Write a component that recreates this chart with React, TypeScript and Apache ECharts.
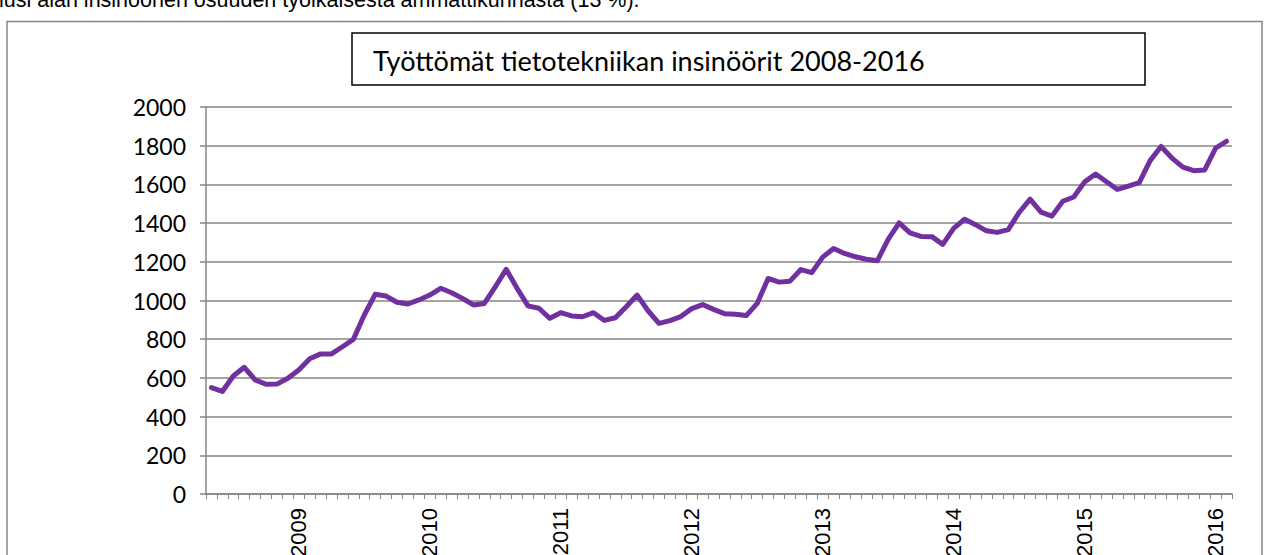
import React, { useEffect, useRef } from "react";
import * as echarts from "echarts";

const introText = "lusi alan insinöörien osuuden työikäisestä ammattikunnasta (13 %).";
const chartTitle = "Työttömät tietotekniikan insinöörit 2008-2016";

const months = [
  "2008-05", "2008-06", "2008-07", "2008-08", "2008-09", "2008-10", "2008-11", "2008-12",
  "2009-01", "2009-02", "2009-03", "2009-04", "2009-05", "2009-06", "2009-07", "2009-08", "2009-09", "2009-10", "2009-11", "2009-12",
  "2010-01", "2010-02", "2010-03", "2010-04", "2010-05", "2010-06", "2010-07", "2010-08", "2010-09", "2010-10", "2010-11", "2010-12",
  "2011-01", "2011-02", "2011-03", "2011-04", "2011-05", "2011-06", "2011-07", "2011-08", "2011-09", "2011-10", "2011-11", "2011-12",
  "2012-01", "2012-02", "2012-03", "2012-04", "2012-05", "2012-06", "2012-07", "2012-08", "2012-09", "2012-10", "2012-11", "2012-12",
  "2013-01", "2013-02", "2013-03", "2013-04", "2013-05", "2013-06", "2013-07", "2013-08", "2013-09", "2013-10", "2013-11", "2013-12",
  "2014-01", "2014-02", "2014-03", "2014-04", "2014-05", "2014-06", "2014-07", "2014-08", "2014-09", "2014-10", "2014-11", "2014-12",
  "2015-01", "2015-02", "2015-03", "2015-04", "2015-05", "2015-06", "2015-07", "2015-08", "2015-09", "2015-10", "2015-11", "2015-12",
  "2016-01", "2016-02",
];

const unemployed = [
  550, 530, 610, 655, 590, 567, 568, 598,
  641, 699, 724, 724, 761, 799, 925, 1032, 1023, 991, 982, 1003,
  1028, 1063, 1040, 1011, 977, 985, 1071, 1161, 1063, 972, 960, 908,
  937, 920, 916, 937, 897, 911, 968, 1028, 947, 882, 896, 917,
  958, 979, 954, 932, 929, 922, 985, 1114, 1095, 1100, 1160, 1144,
  1224, 1269, 1243, 1226, 1213, 1205, 1316, 1401, 1350, 1331, 1330, 1290,
  1373, 1420, 1392, 1360, 1352, 1366, 1455, 1524, 1457, 1436, 1513, 1535,
  1613, 1654, 1614, 1574, 1591, 1609, 1723, 1796, 1736, 1689, 1671, 1675,
  1788, 1823,
];

const yTicks = { min: 0, max: 2000, interval: 200 };

export default function App() {
  const ref = useRef<HTMLDivElement>(null);
  useEffect(() => {
    if (!ref.current) return;
    const chart = echarts.init(ref.current, null, { renderer: "svg" });
    const grey = "#868686";
    chart.setOption({
      animation: false,
      backgroundColor: "#ffffff",
      grid: {
        left: 206,
        right: 36,
        top: 107,
        bottom: 61,
        containLabel: false,
        outerBoundsMode: "none",
      },
      graphic: [
        {
          type: "text",
          x: -1,
          y: 11,
          style: {
            text: introText,
            fontFamily: "Liberation Sans",
            fontSize: 21.5,
            fill: "#000",
            verticalAlign: "bottom",
          },
          z: 10,
        },
        {
          type: "rect",
          shape: { x: 7, y: 21.5, width: 1255, height: 600 },
          style: { fill: "none", stroke: grey, lineWidth: 1.5 },
          z: 5,
        },
        {
          type: "rect",
          shape: { x: 352, y: 33, width: 793, height: 52 },
          style: { fill: "#fff", stroke: "#000", lineWidth: 1.5 },
          z: 10,
        },
        {
          type: "text",
          x: 373,
          y: 60,
          style: {
            text: chartTitle,
            fontFamily: "Lato",
            fontSize: 27,
            fill: "#000",
            verticalAlign: "middle",
          },
          z: 11,
        },
      ],
      xAxis: {
        type: "category",
        data: months,
        boundaryGap: true,
        axisLine: { lineStyle: { color: grey, width: 1.5 } },
        axisTick: { show: true, interval: 0, length: 5, lineStyle: { color: grey, width: 1 } },
        axisLabel: {
          interval: (_i: number, v: string) => v.endsWith("-01"),
          formatter: (v: string) => v.slice(0, 4),
          rotate: 90,
          margin: 14,
          fontFamily: "Liberation Sans",
          fontSize: 22,
          color: "#000",
        },
        splitLine: { show: false },
      },
      yAxis: {
        type: "value",
        min: yTicks.min,
        max: yTicks.max,
        interval: yTicks.interval,
        axisLine: { show: true, lineStyle: { color: grey, width: 1.5 } },
        axisTick: { show: true, length: 6, lineStyle: { color: grey, width: 1.5 } },
        axisLabel: {
          margin: 20,
          fontFamily: "Lato",
          fontSize: 23,
          color: "#000",
          formatter: (v: number) => String(v),
        },
        splitLine: { show: true, lineStyle: { color: grey, width: 1.5 } },
      },
      series: [
        {
          type: "line",
          data: unemployed,
          symbol: "none",
          lineStyle: { color: "#7030A0", width: 5, join: "round", cap: "round" },
          z: 3,
        },
      ],
    });
    return () => chart.dispose();
  }, []);
  return (
    <div
      ref={ref}
      style={{ position: "fixed", left: 0, top: 0, width: 1268, height: 555, background: "#fff" }}
    />
  );
}
